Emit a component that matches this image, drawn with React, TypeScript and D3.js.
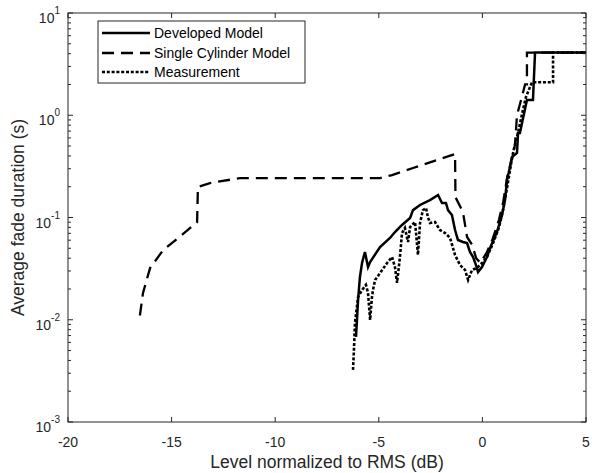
import React from "react";
import * as d3 from "d3";

const W = 592;
const H = 473;
const M = { left: 68, right: 6, top: 13, bottom: 51 };

const xTicks = [-20, -15, -10, -5, 0, 5];
const yTickExps = [1, 0, -1, -2, -3];

const developedX = [-6.1, -6.0, -5.91, -5.81, -5.67, -5.52, -5.42, -4.94, -4.46, -4.22, -3.88, -3.49, -3.35, -3.01, -2.53, -2.14, -1.95, -1.76, -1.66, -1.47, -1.32, -1.18, -0.94, -0.74, -0.6, -0.45, -0.31, -0.21, -0.02, 0.22, 0.37, 0.7, 0.95, 1.09, 1.19, 1.33, 1.43, 1.67, 1.72, 1.81, 2.15, 2.44, 2.54, 5];
const developedY = [0.0068, 0.0156, 0.0262, 0.0359, 0.046, 0.0328, 0.0367, 0.0514, 0.0631, 0.0721, 0.0845, 0.0989, 0.118, 0.1325, 0.148, 0.166, 0.1387, 0.1387, 0.118, 0.1057, 0.0755, 0.0603, 0.0576, 0.0563, 0.046, 0.0411, 0.0343, 0.0293, 0.0328, 0.0411, 0.0503, 0.0721, 0.1057, 0.148, 0.233, 0.312, 0.391, 0.428, 0.67, 0.67, 1.41, 1.41, 4.1, 4.1];

const singleX = [-16.53, -16.38, -16.04, -15.41, -14.5, -13.77, -13.73, -13.15, -11.7, -4.94, -4.36, -3.35, -2.19, -1.32, -1.3, -0.94, -0.74, -0.5, -0.3, -0.1, 0.2, 0.5, 0.8, 1.0, 1.2, 1.45, 1.57, 1.67, 1.9, 2.06, 2.15, 2.15, 5];
const singleY = [0.011, 0.0183, 0.032, 0.048, 0.0675, 0.09, 0.199, 0.217, 0.243, 0.243, 0.26, 0.305, 0.365, 0.418, 0.158, 0.113, 0.0645, 0.054, 0.04, 0.036, 0.045, 0.062, 0.095, 0.14, 0.25, 0.4, 0.51, 1.0, 1.5, 2.0, 2.0, 4.1, 4.1];

const measuredX = [-6.245, -6.2, -6.15, -6.0, -5.81, -5.62, -5.52, -5.42, -5.33, -5.28, -5.18, -4.94, -4.6, -4.36, -4.22, -4.12, -3.98, -3.88, -3.74, -3.59, -3.49, -3.25, -3.11, -3.01, -2.87, -2.72, -2.63, -2.53, -2.29, -2.05, -1.8, -1.56, -1.32, -1.08, -0.84, -0.69, -0.5, -0.26, -0.02, 0.22, 0.5, 0.8, 1.0, 1.2, 1.4, 1.5, 1.7, 1.9, 2.1, 2.39, 3.41, 3.41, 5];
const measuredY = [0.00323, 0.00506, 0.0093, 0.0167, 0.0195, 0.0219, 0.0183, 0.00995, 0.0167, 0.0195, 0.0245, 0.0286, 0.0359, 0.0411, 0.0328, 0.0229, 0.0411, 0.0705, 0.0789, 0.0576, 0.0807, 0.0904, 0.043, 0.0884, 0.118, 0.124, 0.101, 0.0884, 0.0904, 0.0755, 0.0705, 0.0631, 0.043, 0.0343, 0.0307, 0.0245, 0.0307, 0.0321, 0.0359, 0.0411, 0.055, 0.08, 0.12, 0.2, 0.35, 0.45, 0.65, 1.0, 1.5, 2.1, 2.1, 4.1, 4.1];

const seriesNames = ["Developed Model", "Single Cylinder Model", "Measurement"];
const seriesDash = ["none", "12,7", "3,1.8"];
const seriesWidth = [2.5, 2.3, 2.6];

const AX = "#262626";
const FONT = "'Liberation Sans', Arial, sans-serif";

export default function App() {
  const x = d3.scaleLinear().domain([-20, 5]).range([M.left, W - M.right]);
  const y = d3.scaleLog().domain([1e-3, 1e1]).range([H - M.bottom, M.top]);
  const line = d3
    .line<[number, number]>()
    .x((d) => x(d[0]))
    .y((d) => y(d[1]));

  const series = [
    d3.zip(developedX, developedY) as [number, number][],
    d3.zip(singleX, singleY) as [number, number][],
    d3.zip(measuredX, measuredY) as [number, number][],
  ];

  const x0 = M.left;
  const x1 = W - M.right;
  const yTop = M.top;
  const yBot = H - M.bottom;
  const majorLen = 5;
  const minorLen = 3;

  const minorVals: number[] = [];
  for (let e = -3; e < 1; e++) {
    for (let k = 2; k <= 9; k++) minorVals.push(k * Math.pow(10, e));
  }

  const legendRows = [33, 53, 72];

  return (
    <div style={{ position: "fixed", left: 0, top: 0 }}>
      <svg width={W} height={H} style={{ display: "block", background: "#fff" }} fontFamily={FONT}>
        <defs>
          <clipPath id="plotclip">
            <rect x={x0} y={yTop} width={x1 - x0} height={yBot - yTop} />
          </clipPath>
        </defs>
        <rect x={0} y={0} width={W} height={H} fill="#fff" />
        <g clipPath="url(#plotclip)">
          {series.map((s, i) => (
            <path
              key={i}
              d={line(s) || ""}
              fill="none"
              stroke="#000"
              strokeWidth={seriesWidth[i]}
              strokeDasharray={seriesDash[i]}
              strokeLinejoin="miter"
            />
          ))}
        </g>
        <rect x={x0} y={yTop} width={x1 - x0} height={yBot - yTop} fill="none" stroke={AX} strokeWidth={1} />
        {xTicks.map((t) => (
          <g key={"xt" + t}>
            <line x1={x(t)} x2={x(t)} y1={yBot} y2={yBot - majorLen} stroke={AX} />
            <line x1={x(t)} x2={x(t)} y1={yTop} y2={yTop + majorLen} stroke={AX} />
            <text x={x(t)} y={yBot + 25} textAnchor="middle" fontSize={14} fill={AX}>
              {t}
            </text>
          </g>
        ))}
        {yTickExps.map((e) => {
          const v = Math.pow(10, e);
          return (
            <g key={"yt" + e}>
              <line x1={x0} x2={x0 + majorLen} y1={y(v)} y2={y(v)} stroke={AX} />
              <line x1={x1} x2={x1 - majorLen} y1={y(v)} y2={y(v)} stroke={AX} />
              <text x={60} y={y(v) + 10} textAnchor="end" fontSize={14} fill={AX}>
                10
                <tspan fontSize={10} dy={-9}>
                  {e}
                </tspan>
              </text>
            </g>
          );
        })}
        {minorVals.map((v, i) => (
          <g key={"ym" + i}>
            <line x1={x0} x2={x0 + minorLen} y1={y(v)} y2={y(v)} stroke={AX} />
            <line x1={x1} x2={x1 - minorLen} y1={y(v)} y2={y(v)} stroke={AX} />
          </g>
        ))}
        <text x={(x0 + x1) / 2} y={468} textAnchor="middle" fontSize={17.5} fill={AX}>
          Level normalized to RMS (dB)
        </text>
        <text
          transform={`translate(24, ${(yTop + yBot) / 2}) rotate(-90)`}
          textAnchor="middle"
          fontSize={17.5}
          fill={AX}
        >
          Average fade duration (s)
        </text>
        <rect x={98} y={21} width={207} height={62} fill="#fff" stroke={AX} strokeWidth={1} />
        {seriesNames.map((n, i) => (
          <g key={"lg" + i}>
            <line
              x1={102}
              x2={150}
              y1={legendRows[i]}
              y2={legendRows[i]}
              stroke="#000"
              strokeWidth={seriesWidth[i]}
              strokeDasharray={seriesDash[i]}
            />
            <text x={154} y={legendRows[i] + 5} fontSize={14} fill="#000">
              {n}
            </text>
          </g>
        ))}
      </svg>
    </div>
  );
}
